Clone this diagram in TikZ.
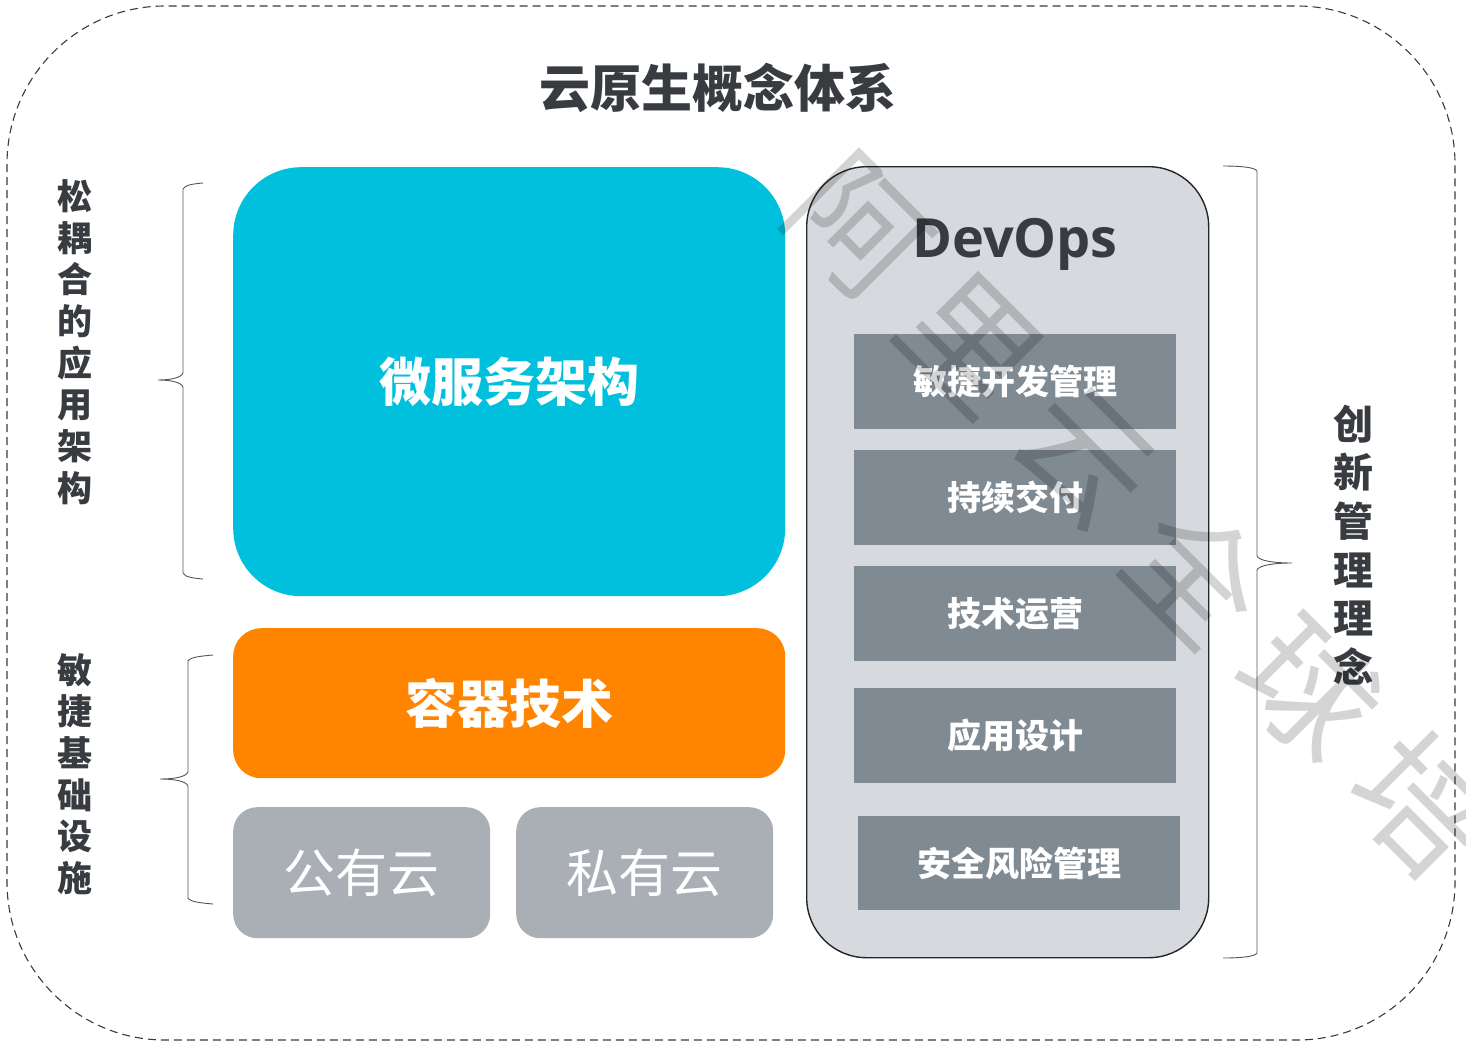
\documentclass[tikz,border=0pt]{standalone}
\usepackage{fontspec}
\setmainfont{Noto Sans CJK SC}
\newfontfamily\cjk{Noto Sans CJK SC}
\newfontfamily\latinbold{Open Sans}
\definecolor{cblue}{HTML}{00C0DE}
\definecolor{corange}{HTML}{FF8500}
\definecolor{ccloud}{HTML}{A9AFB5}
\definecolor{cdevbg}{HTML}{D6D9DD}
\definecolor{cinner}{HTML}{7F8A93}
\definecolor{ctext}{HTML}{383C40}
\definecolor{cline}{HTML}{555555}
\tikzset{
  blk/.style={draw=none, inner sep=0pt, anchor=north west},
  innerbox/.style={blk, fill=cinner, minimum width=322pt, minimum height=95pt, text=white,
     font=\cjk\bfseries\fontsize{34}{34}\selectfont},
  cloudbox/.style={blk, fill=ccloud, rounded corners=24pt, minimum width=257pt, minimum height=131pt,
     text=white, font=\cjk\fontsize{52}{52}\selectfont},
  bracepath/.style={draw=cline, line width=0.9pt},
  vlabel/.style={align=center, text=ctext, inner sep=0pt},
  wmark/.style={rotate=-45, text=black, text opacity=0.17, inner sep=0pt,
     font=\cjk\fontsize{132}{132}\selectfont}
}
\begin{document}
\begin{tikzpicture}[x=1pt,y=-1pt]
\useasboundingbox (0,0) rectangle (1466,1058);
% outer dashed frame
\draw[draw=ctext, line width=1.1pt, dash pattern=on 8pt off 5pt, rounded corners=158pt]
  (7,6) rectangle (1455,1040);
% title
\node[text=ctext, font=\cjk\bfseries\fontsize{51}{51}\selectfont] (title) at (718,88) {云原生概念体系};
% left column boxes
\node[blk, fill=cblue, rounded corners=68pt, minimum width=552pt, minimum height=429pt,
  text=white, font=\cjk\bfseries\fontsize{52}{52}\selectfont] (micro) at (233,167) {微服务架构};
\node[blk, fill=corange, rounded corners=28pt, minimum width=552pt, minimum height=150pt,
  text=white, font=\cjk\bfseries\fontsize{52}{52}\selectfont] (container) at (233,628) {容器技术};
\node[cloudbox] (public) at (233,807) {公有云};
\node[cloudbox] (private) at (516,807) {私有云};
% DevOps column
\node[blk, fill=cdevbg, draw=black!85, line width=1.4pt, rounded corners=60pt,
  minimum width=402pt, minimum height=791pt] (devops) at (806,166) {};
\node[text=ctext, font=\latinbold\bfseries\fontsize{54}{54}\selectfont] (devtitle) at (1015,244) {DevOps};
\node[innerbox] (agile) at (854,334) {敏捷开发管理};
\node[innerbox] (cd) at (854,450) {持续交付};
\node[innerbox] (ops) at (854,566) {技术运营};
\node[innerbox] (design) at (854,688) {应用设计};
\node[innerbox, minimum height=94pt] (risk) at (858,816) {安全风险管理};
% braces
\draw[bracepath] (203,183) .. controls (192,184) and (185,185) .. (183,189) -- (183,373)
  .. controls (181,378) and (170,380) .. (158,380)
  .. controls (170,380) and (181,382) .. (183,387) -- (183,573)
  .. controls (185,577) and (192,578) .. (203,579);
\draw[bracepath] (213,655) .. controls (202,656) and (190,657) .. (188,661) -- (188,772)
  .. controls (186,777) and (174,779) .. (160,779)
  .. controls (174,779) and (186,781) .. (188,786) -- (188,898)
  .. controls (190,902) and (202,903) .. (213,904);
\draw[bracepath] (1223,166) .. controls (1238,166) and (1255,167) .. (1257,171) -- (1257,556)
  .. controls (1259,561) and (1275,563) .. (1292,563)
  .. controls (1275,563) and (1259,565) .. (1257,570) -- (1257,953)
  .. controls (1255,957) and (1238,958) .. (1223,958);
% vertical labels
\node[vlabel, font=\cjk\bfseries\fontsize{35}{41.7}\selectfont] (lbl1) at (75,342)
  {松\\耦\\合\\的\\应\\用\\架\\构};
\node[vlabel, font=\cjk\bfseries\fontsize{35}{41.7}\selectfont] (lbl2) at (75,774)
  {敏\\捷\\基\\础\\设\\施};
\node[vlabel, font=\cjk\bfseries\fontsize{40}{48.6}\selectfont] (lbl3) at (1353,545)
  {创\\新\\管\\理\\理\\念};
% watermark
\begin{scope}
\clip (0,0) rectangle (1466,1058);
\node[wmark] (w1) at (858,228) {阿};
\node[wmark] (w2) at (971,343) {里};
\node[wmark] (w3) at (1084,458) {云};
\node[wmark] (w4) at (1197,573) {全};
\node[wmark] (w5) at (1310,688) {球};
\node[wmark] (w6) at (1423,803) {培};
\end{scope}
\end{tikzpicture}
\end{document}
